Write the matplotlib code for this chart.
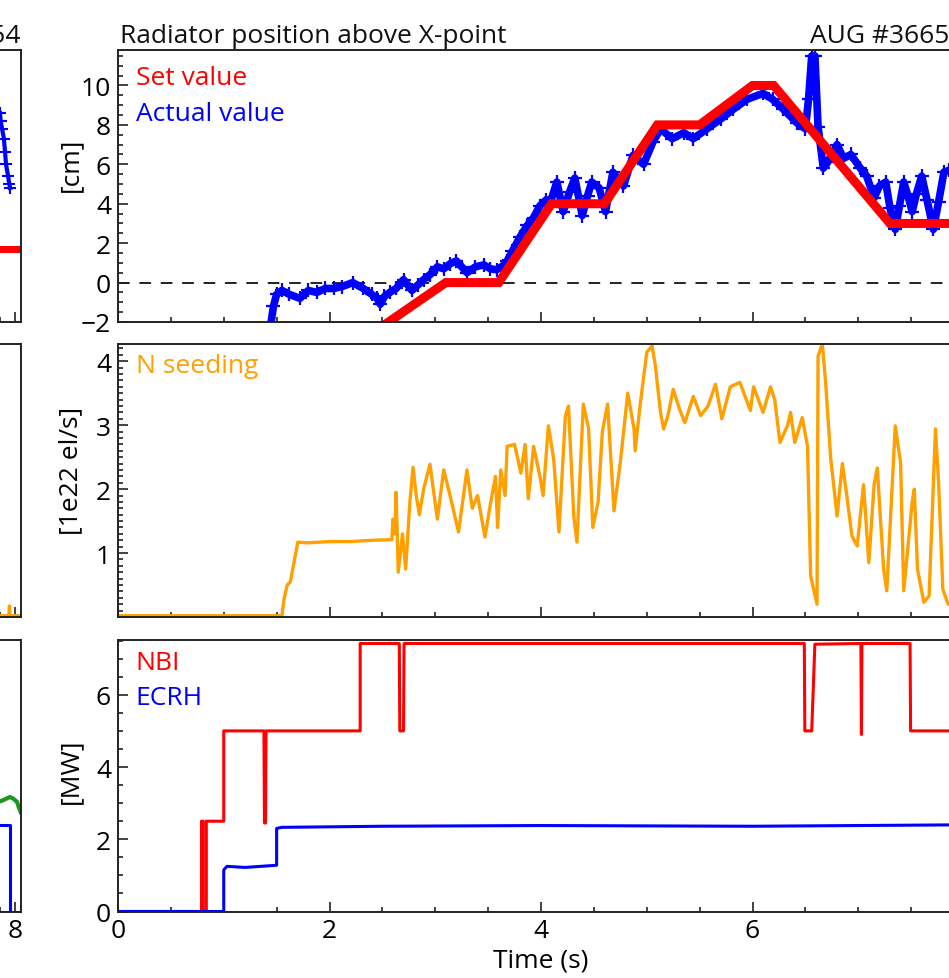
import matplotlib
matplotlib.use("Agg")
import matplotlib.pyplot as plt
from matplotlib.ticker import MultipleLocator, FixedLocator

plt.rcParams['font.family'] = ['Open Sans', 'DejaVu Sans']

# ---------------- data ----------------
# Top panel: radiator position (cm)
set_t = [2.45, 3.1, 3.6, 4.1, 4.6, 5.1, 5.5, 6.0, 6.2, 7.3, 8.0]
set_y = [-2.4, 0.0, 0.0, 4.0, 4.0, 8.0, 8.0, 10.0, 10.0, 3.0, 3.0]

act_t = [1.44, 1.47, 1.5, 1.55, 1.62, 1.72, 1.8, 1.88, 1.96, 2.04, 2.12, 2.22, 2.32,
         2.40, 2.45, 2.48, 2.52, 2.57, 2.63, 2.7, 2.78, 2.84, 2.89, 2.95, 3.02, 3.08,
         3.14, 3.2, 3.25, 3.3, 3.38, 3.46, 3.52, 3.58, 3.64, 3.68, 3.73, 3.8, 3.87,
         3.93, 3.99, 4.05, 4.09, 4.15, 4.21, 4.27, 4.32, 4.39, 4.44, 4.48, 4.55, 4.61,
         4.68, 4.78, 4.87, 4.97, 5.06, 5.13, 5.24, 5.35, 5.44, 5.57, 5.7, 5.82, 5.95,
         6.1, 6.19, 6.29, 6.42, 6.5, 6.53, 6.56, 6.59, 6.62, 6.67, 6.71, 6.8, 6.86,
         6.93, 7.02, 7.08, 7.15, 7.2, 7.26, 7.3, 7.35, 7.39, 7.43, 7.47, 7.51, 7.55,
         7.6, 7.65, 7.71, 7.76, 7.81, 7.86, 7.95]
act_y = [-2.3, -1.2, -0.6, -0.4, -0.6, -0.8, -0.4, -0.5, -0.3, -0.3, -0.2, 0.0, -0.3,
         -0.6, -0.8, -1.1, -0.7, -0.5, -0.3, 0.15, -0.4, -0.1, 0.15, 0.4, 0.8, 0.7,
         0.95, 1.1, 0.8, 0.5, 0.8, 0.9, 0.7, 0.65, 0.85, 1.1, 1.6, 2.3, 2.9,
         3.3, 3.9, 4.2, 4.1, 5.1, 3.6, 4.6, 5.3, 3.4, 4.4, 5.1, 4.8, 3.6,
         5.6, 4.9, 6.45, 6.0, 7.15, 7.8, 7.3, 7.6, 7.3, 7.8, 8.3, 8.8, 9.3,
         9.6, 9.3, 8.8, 8.1, 7.8, 9.3, 11.5, 11.5, 7.9, 5.8, 6.1, 7.0, 6.3,
         6.5, 5.8, 5.4, 4.3, 4.9, 5.1, 3.8, 2.7, 3.9, 5.1, 4.4, 3.6, 4.5,
         5.4, 4.2, 2.7, 4.1, 5.6, 5.7, 5.5]

# Middle panel: N seeding (1e22 el/s)
n_t = [0.0, 1.55, 1.57, 1.6, 1.63, 1.70, 1.8, 2.0, 2.2, 2.4, 2.59, 2.6, 2.62, 2.63,
       2.65, 2.69, 2.72, 2.76, 2.79, 2.82, 2.85, 2.89, 2.95, 3.02, 3.08, 3.14, 3.22,
       3.3, 3.35, 3.4, 3.47, 3.52, 3.57, 3.59, 3.62, 3.66, 3.68, 3.75, 3.81, 3.85,
       3.88, 3.93, 3.99, 4.02, 4.07, 4.12, 4.17, 4.23, 4.26, 4.31, 4.34, 4.40, 4.45,
       4.49, 4.54, 4.58, 4.63, 4.69, 4.75, 4.82, 4.88, 4.89, 4.94, 5.0, 5.05, 5.08,
       5.13, 5.16, 5.2, 5.25, 5.31, 5.36, 5.44, 5.51, 5.58, 5.65, 5.71, 5.79, 5.88,
       5.98, 6.01, 6.1, 6.17, 6.21, 6.26, 6.33, 6.36, 6.4, 6.47, 6.52, 6.55, 6.61,
       6.62, 6.66, 6.69, 6.74, 6.8, 6.85, 6.89, 6.94, 6.99, 7.05, 7.1, 7.15, 7.18,
       7.24, 7.27, 7.35, 7.4, 7.43, 7.48, 7.51, 7.53, 7.56, 7.62, 7.67, 7.73, 7.76,
       7.8, 7.85, 7.95]
n_v = [0.02, 0.02, 0.28, 0.5, 0.55, 1.17, 1.16, 1.18, 1.18, 1.2, 1.21, 1.53, 1.3, 1.95,
       0.7, 1.3, 0.75, 1.8, 2.34, 1.9, 1.6, 2.0, 2.39, 1.53, 2.3, 1.9, 1.33,
       2.3, 1.7, 1.9, 1.25, 1.75, 2.2, 1.4, 2.3, 1.9, 2.67, 2.7, 2.25, 2.7,
       1.85, 2.67, 2.2, 1.9, 2.99, 2.47, 1.33, 3.14, 3.3, 1.58, 1.17, 3.33, 2.95,
       1.4, 1.8, 2.9, 3.33, 1.66, 2.42, 3.5, 2.94, 2.6, 3.35, 4.14, 4.24, 3.95,
       3.2, 2.94, 3.15, 3.56, 3.25, 3.04, 3.45, 3.15, 3.3, 3.64, 3.1, 3.6, 3.67,
       3.23, 3.6, 3.2, 3.6, 3.4, 2.73, 2.99, 3.2, 2.73, 3.12, 2.67, 0.64, 0.2,
       4.08, 4.27, 3.7, 2.47, 1.58, 2.4, 1.92, 1.27, 1.11, 2.07, 0.85, 2.07, 2.33,
       0.75, 0.41, 2.99, 2.42, 0.41, 1.27, 1.8, 2.0, 0.75, 0.23, 0.33, 2.94, 2.1,
       0.43, 0.2, 0.25]

# Bottom panel: heating power (MW)
nbi_t = [0.0, 0.79, 0.79, 0.805, 0.805, 0.835, 0.835, 1.0, 1.0, 1.38, 1.385, 1.395, 1.40,
         2.29, 2.29, 2.66, 2.665, 2.70, 2.705, 6.49, 6.495, 6.56, 6.59, 7.025, 7.03,
         7.035, 7.49, 7.495, 8.0]
nbi_v = [0.0, 0.0, 2.5, 2.5, 0.0, 0.0, 2.5, 2.5, 5.0, 5.0, 2.45, 2.45, 5.0,
         5.0, 7.42, 7.42, 5.0, 5.0, 7.42, 7.42, 5.0, 5.0, 7.4, 7.42, 4.9,
         7.42, 7.42, 5.0, 5.0]
ecrh_t = [0.0, 1.0, 1.0, 1.03, 1.2, 1.5, 1.5, 1.55, 2.5, 4.0, 6.0, 7.0, 8.0]
ecrh_v = [0.0, 0.0, 1.15, 1.25, 1.22, 1.28, 2.3, 2.33, 2.36, 2.38, 2.36, 2.38, 2.4]

# Left (cropped) panels, neighbouring shot
l_set_t = [7.5, 8.2]
l_set_y = [1.7, 1.7]
l_act_t = [7.5, 7.52, 7.57, 7.63, 7.67, 7.7, 7.77, 7.81, 7.84]
l_act_y = [8.6, 8.2, 7.8, 7.3, 6.6, 6.0, 5.4, 5.0, 4.8]
l_n_t = [7.5, 7.8, 7.81, 7.82, 7.83, 8.2]
l_n_v = [0.02, 0.02, 0.17, 0.17, 0.02, 0.02]
l_nbi_t = [7.5, 7.83]
l_nbi_v = [0.0, 0.0]
l_ecrh_t = [7.5, 7.83, 7.83, 8.2]
l_ecrh_v = [2.4, 2.4, 0.0, 0.0]
l_ohm_t = [7.5, 7.6, 7.7, 7.83, 7.95, 8.07, 8.12, 8.19]
l_ohm_v = [3.05, 3.08, 3.12, 3.17, 3.12, 3.03, 2.9, 2.75]

# ---------------- layout ----------------
W, H = 949, 979
fig = plt.figure(figsize=(W / 100, H / 100), dpi=100)

def rect(l, r, t, b):
    return [l / W, 1 - b / H, (r - l) / W, (b - t) / H]

rows = [(51, 323), (345, 618), (640.5, 912.5)]
FS = 19
DARK = '#222222'

def style(ax, ymaj, ymin):
    for s in ax.spines.values():
        s.set_linewidth(1.4)
        s.set_color(DARK)
    ax.xaxis.set_major_locator(MultipleLocator(2))
    ax.xaxis.set_minor_locator(MultipleLocator(0.5))
    ax.yaxis.set_major_locator(ymaj)
    ax.yaxis.set_minor_locator(MultipleLocator(ymin))
    ax.tick_params(which='both', direction='in', top=False, right=False,
                   labelsize=FS, color=DARK, width=1.2)
    ax.tick_params(which='major', length=7, pad=5)
    ax.tick_params(which='minor', length=3.5)

axes = []
for (t, b) in rows:
    axes.append(fig.add_axes(rect(118, 964, t, b)))
ax1, ax2, ax3 = axes

# top panel
ax1.axhline(0, color=DARK, lw=1.4, ls=(0, (6, 5)))
ax1.plot(act_t, act_y, color='#0000ff', lw=5.5, marker='+', ms=10, mew=1.6)
ax1.plot(set_t, set_y, color='#ff0000', lw=6.5, solid_joinstyle='miter')
ax1.set_xlim(0, 8)
ax1.set_ylim(-2, 11.8)
style(ax1, MultipleLocator(2), 0.5)
ax1.set_xticklabels([])
ax1.set_ylabel('[cm]', fontsize=FS)
ax1.yaxis.set_label_coords(-0.041, 0.58)
ax1.text(0.002, 1.03, 'Radiator position above X-point', transform=ax1.transAxes,
         fontsize=FS, ha='left', va='baseline', color='#111111')
ax1.text(1.0, 1.03, 'AUG #36655', transform=ax1.transAxes,
         fontsize=FS, ha='right', va='baseline', color='#111111')
ax1.text(0.021, 0.90, 'Set value', transform=ax1.transAxes, fontsize=FS,
         color='#ff0000', va='center')
ax1.text(0.021, 0.765, 'Actual value', transform=ax1.transAxes, fontsize=FS,
         color='#0000ff', va='center')

# middle panel
ax2.plot(n_t, n_v, color='#ffa000', lw=2.4)
ax2.set_xlim(0, 8)
ax2.set_ylim(0, 4.27)
style(ax2, FixedLocator([1, 2, 3, 4]), 0.1)
ax2.set_xticklabels([])
ax2.set_ylabel('[1e22 el/s]', fontsize=FS)
ax2.yaxis.set_label_coords(-0.041, 0.54)
ax2.text(0.021, 0.92, 'N seeding', transform=ax2.transAxes, fontsize=FS,
         color='#ffa000', va='center')

# bottom panel
ax3.plot(nbi_t, nbi_v, color='#ff0000', lw=2.2)
ax3.plot(ecrh_t, ecrh_v, color='#0000ff', lw=2.2)
ax3.set_xlim(0, 8)
ax3.set_ylim(0, 7.53)
style(ax3, MultipleLocator(2), 0.5)
ax3.set_ylabel('[MW]', fontsize=FS)
ax3.yaxis.set_label_coords(-0.041, 0.52)
ax3.set_xlabel('Time (s)', fontsize=FS, labelpad=3)
ax3.text(0.021, 0.915, 'NBI', transform=ax3.transAxes, fontsize=FS,
         color='#ff0000', va='center')
ax3.text(0.021, 0.785, 'ECRH', transform=ax3.transAxes, fontsize=FS,
         color='#0000ff', va='center')

# left, cropped panels
lax = [fig.add_axes(rect(-225, 21, t, b)) for (t, b) in rows]
l1, l2, l3 = lax
l1.plot(l_act_t, l_act_y, color='#0000ff', lw=3, marker='+', ms=8, mew=1.5)
l1.plot(l_set_t, l_set_y, color='#ff0000', lw=5)
l1.set_ylim(-2, 11.8)
l1.text(1.0, 1.03, 'AUG #36654', transform=l1.transAxes,
        fontsize=FS, ha='right', va='baseline', color='#111111')
l2.plot(l_n_t, l_n_v, color='#ffa000', lw=2.4)
l2.set_ylim(0, 4.27)
l3.plot(l_ohm_t, l_ohm_v, color='#1a9a1a', lw=3)
l3.plot(l_nbi_t, l_nbi_v, color='#ff0000', lw=2.2)
l3.plot(l_ecrh_t, l_ecrh_v, color='#0000ff', lw=2.2)
l3.set_ylim(0, 7.53)
for a in lax:
    a.set_xlim(0, 8.2)
    style(a, MultipleLocator(2), 0.5)
    a.set_yticklabels([])
l1.set_xticklabels([])
l2.set_xticklabels([])

fig.savefig('out.png', dpi=100)
